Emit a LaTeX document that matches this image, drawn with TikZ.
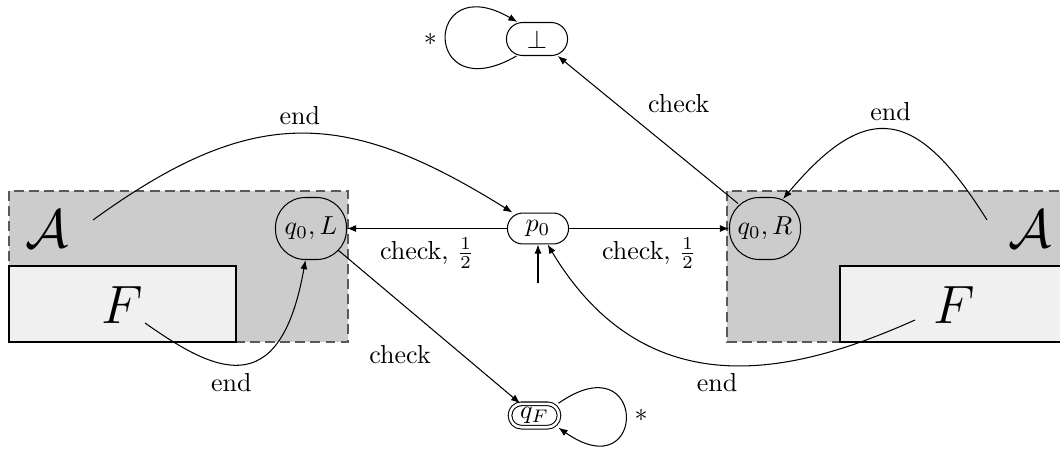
\documentclass[tikz,border=0pt]{standalone}
\usetikzlibrary{arrows.meta}
\begin{document}
\begin{tikzpicture}[x=0.3846pt, y=0.3846pt,
  >={Latex[length=3.5pt,width=2.7pt]},
  boxfill/.style={fill=gray!40},
  boxline/.style={draw=black!65, line width=0.7pt, dash pattern=on 3.8pt off 2pt},
  finbox/.style={draw=black, fill=gray!12},
  bigsym/.style={font=\huge},
  qstate/.style={draw, rectangle, rounded corners=11.5pt, minimum width=27.3pt, minimum height=23.85pt, inner sep=1pt},
  pstate/.style={draw, rectangle, rounded corners=5.9pt, minimum width=23.5pt, minimum height=11.9pt, inner sep=1pt},
  bstate/.style={draw, rectangle, rounded corners=6.3pt, minimum width=23.5pt, minimum height=12.7pt, inner sep=1pt},
  fstate/.style={draw, double, double distance=1pt, rectangle, rounded corners=4.4pt, minimum width=18.8pt, minimum height=9pt, inner sep=0.5pt},
]
\useasboundingbox (0,0) rectangle (1060,451);
\clip (0,0) rectangle (1060,451);
% boxes
\fill[boxfill] (9,260) rectangle (348,109);
\draw[boxline] (9,260) rectangle (348,109);
\draw[finbox] (9,185) rectangle (236,109);
\fill[boxfill] (727,260) rectangle (1066,109);
\draw[boxline] (727,260) rectangle (1066,109);
\draw[finbox] (840,185) rectangle (1067,109);
% symbols
\node[bigsym] (AL) at (47,222) {$\mathcal{A}$};
\node[bigsym] (FL) at (122,146) {$F$};
\node[bigsym] (AR) at (1030,222) {$\mathcal{A}$};
\node[bigsym] (FR) at (954,146) {$F$};
% states
\node[qstate] (qL) at (311,222.5) {$q_0, L$};
\node[qstate] (qR) at (765,222.5) {$q_0, R$};
\node[pstate] (p0) at (538,222.5) {$p_0$};
\node[bstate] (bot) at (537,412) {$\bot$};
\node[fstate] (qF) at (534.5,35.5) {$q_F$};
% free ends
\coordinate (sAL) at (93,231);
\coordinate (sAR) at (987,231);
\coordinate (sFL) at (145,128);
\coordinate (sFR) at (915,131);
\coordinate (init) at (538,168);
% transitions
\draw[->] (p0) -- node[below] {check, $\frac{1}{2}$} (qL);
\draw[->] (p0) -- node[below] {check, $\frac{1}{2}$} (qR);
\draw[->] (init) -- (p0);
\draw[->] ([shift={(-9,10)}]qL.south east) -- node[below left, pos=0.56] {check} (qF);
\draw[->] ([shift={(9,-6.5)}]qR.north west) -- node[above right, pos=0.55] {check} (bot);
\draw[->] (sAL) to[out=36, in=148, looseness=1.2] node[above] {end} (p0);
\draw[->] (sAR) to[out=122, in=50, looseness=1.64] node[above] {end} ([shift={(18,-2)}]qR.north);
\draw[->] (sFL) to[out=-35, in=-100, out distance=30.8pt, in distance=57.7pt] node[below, pos=0.45] {end} (qL);
\draw[->] (sFR) to[out=204, in=-59, out distance=46.2pt, in distance=76.9pt] node[below, pos=0.53] {end} (p0);
\draw[->] ([shift={(10.5,0)}]bot.south west) to[out=210, in=150, distance=42pt] node[left] {$*$} ([shift={(11.5,0)}]bot.north west);
\draw[->] ([shift={(-1,0)}]qF.north east) to[out=35, in=-35, distance=42pt] node[right] {$*$} ([shift={(-1,0)}]qF.south east);
\end{tikzpicture}
\end{document}
